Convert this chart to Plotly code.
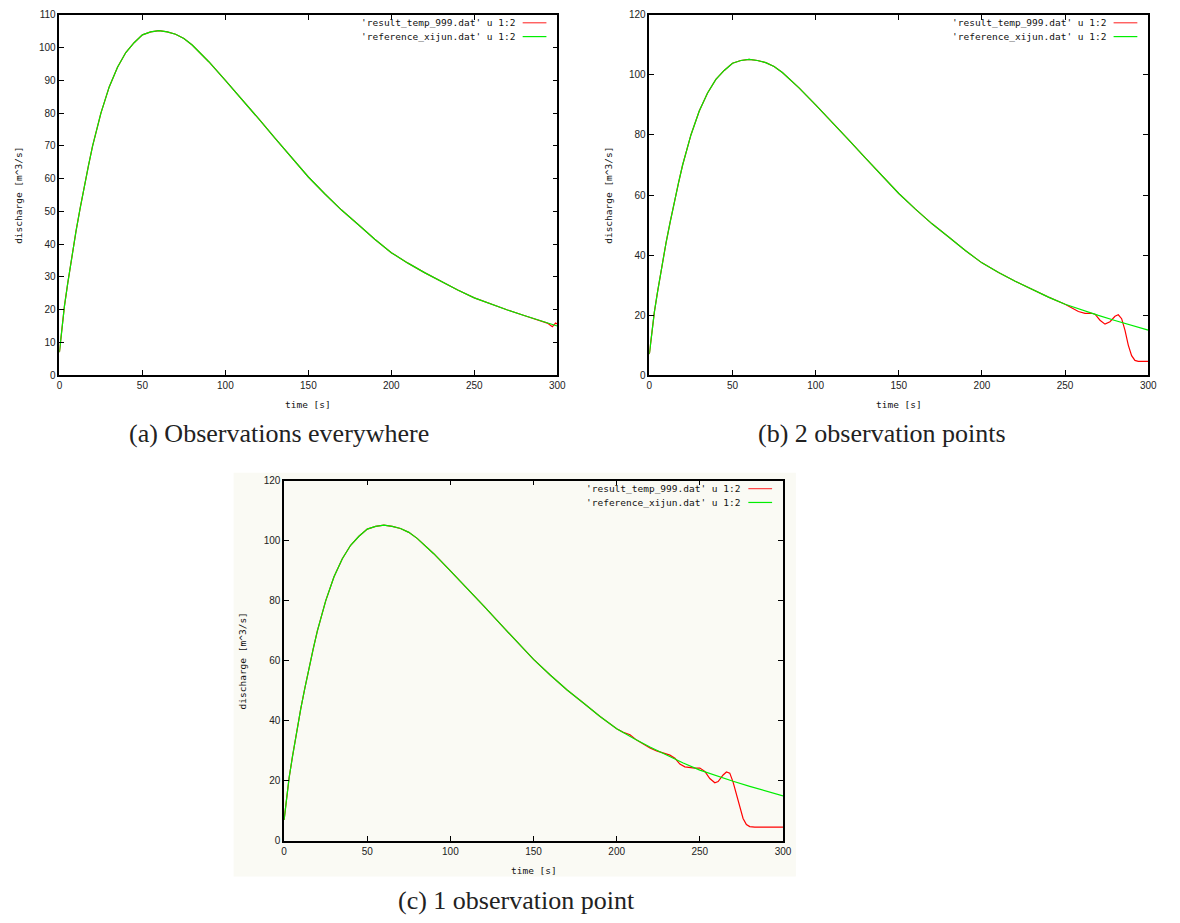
import plotly.graph_objects as go

# ---------------- data ----------------
t_ref = [0, 1, 2, 3, 5, 7, 10, 12.5, 15, 17.5, 20, 25, 30, 35, 40, 45, 50, 55, 60, 65,
         70, 75, 80, 90, 100, 110, 120, 130, 140, 150, 160, 170, 180, 190, 200, 210,
         220, 230, 240, 250, 260, 270, 280, 290, 300]
q_ref = [7, 12, 17, 21, 28, 35, 44, 51, 58, 64, 70, 80, 88, 94, 98.5, 101.5, 103.9, 104.8,
         105.2, 104.8, 104.1, 102.8, 100.8, 95.7, 90, 84.3, 78.3, 72.3, 66.5, 60.5, 55.3,
         50.4, 46, 41.5, 37.4, 34.2, 31.3, 28.6, 26, 23.6, 21.7, 19.9, 18.2, 16.5, 15]

# result curves: identical to reference until the listed tail
red_a_tail_t = [294, 297, 299, 300]
red_a_tail_q = [15.9, 14.8, 15.9, 15.6]

red_b_tail_t = [254, 258, 262, 266, 268, 271, 274, 277, 280, 282, 284, 286, 288, 290, 292, 294, 300]
red_b_tail_q = [22.4, 21.2, 20.6, 20.6, 20.3, 18.3, 17.0, 17.8, 19.6, 20.1, 18.8, 15.0, 10.0, 6.5, 4.9, 4.6, 4.6]

red_c_tail_t = [204, 208, 212, 216, 220, 224, 228, 232, 235, 238, 241, 244, 247, 250, 253, 256,
                259, 261, 264, 266, 268, 270, 272, 274, 276, 278, 280, 283, 300]
red_c_tail_q = [36.2, 35.4, 33.6, 32.3, 31.0, 30.0, 29.3, 28.6, 27.6, 25.6, 24.7, 24.4, 24.3, 24.3,
                23.2, 20.8, 19.4, 19.8, 22.0, 23.0, 22.6, 19.6, 15.5, 11.0, 7.5, 5.5, 4.8, 4.6, 4.6]

x_ticks = [0, 50, 100, 150, 200, 250, 300]
y_ticks_a = [0, 10, 20, 30, 40, 50, 60, 70, 80, 90, 100, 110]
y_ticks_bc = [0, 20, 40, 60, 80, 100, 120]

legend_labels = ["'result_temp_999.dat' u 1:2", "'reference_xijun.dat' u 1:2"]
captions = ["(a) Observations everywhere", "(b) 2 observation points", "(c) 1 observation point"]


def red_series(cut, tail_t, tail_q):
    k = sum(1 for t in t_ref if t <= cut)
    return t_ref[:k] + tail_t, q_ref[:k] + tail_q


red_a = red_series(290, red_a_tail_t, red_a_tail_q)
red_b = red_series(250, red_b_tail_t, red_b_tail_q)
red_c = red_series(200, red_c_tail_t, red_c_tail_q)

# ---------------- layout geometry (pixels) ----------------
W, H = 1180, 923
panels = [
    dict(l=57, r=560, t=9, b=374, yr=110, yt=y_ticks_a, red=red_a),
    dict(l=653, r=1157, t=9, b=374, yr=120, yt=y_ticks_bc, red=red_b),
    dict(l=284, r=788, t=481, b=846, yr=120, yt=y_ticks_bc, red=red_c),
]

fig = go.Figure()
layout = dict(width=W, height=H, margin=dict(l=0, r=0, t=0, b=0),
              paper_bgcolor="white", plot_bgcolor="rgba(0,0,0,0)", showlegend=False)
annotations = []
shapes = []

# off-white background of panel (c)
shapes.append(dict(type="rect", xref="paper", yref="paper", layer="below",
                   x0=233 / W, x1=801 / W, y0=1 - 882 / H, y1=1 - 473 / H,
                   fillcolor="#fafaf4", line=dict(width=0)))

tick_font = dict(family="Liberation Sans, Arial, sans-serif", size=10, color="#222")
mono_font = dict(family="DejaVu Sans Mono, monospace", size=9.5, color="#111")
cap_font = dict(family="Liberation Serif, Times New Roman, serif", size=26, color="#222")

for i, p in enumerate(panels):
    n = "" if i == 0 else str(i + 1)
    xa, ya = "xaxis" + n, "yaxis" + n
    xd = [p["l"] / W, p["r"] / W]
    yd = [1 - p["b"] / H, 1 - p["t"] / H]
    common = dict(showline=True, linecolor="black", linewidth=1.5, mirror="ticks",
                  ticks="inside", ticklen=5, tickwidth=1.2, tickcolor="black",
                  showgrid=False, zeroline=False, tickfont=tick_font, fixedrange=True)
    layout[xa] = dict(domain=xd, range=[0, 300], tickmode="array", tickvals=x_ticks,
                      anchor="y" + n, **common)
    layout[ya] = dict(domain=yd, range=[0, p["yr"]], tickmode="array", tickvals=p["yt"],
                      anchor="x" + n, **common)
    rt, rq = p["red"]
    fig.add_trace(go.Scatter(x=rt, y=rq, mode="lines", line=dict(color="#ff0000", width=1.2),
                             xaxis="x" + n, yaxis="y" + n, name=legend_labels[0]))
    fig.add_trace(go.Scatter(x=t_ref, y=q_ref, mode="lines", line=dict(color="#00ee00", width=1.2),
                             xaxis="x" + n, yaxis="y" + n, name=legend_labels[1]))

    # key (gnuplot style: text then line sample)
    for j, (lab, col) in enumerate(zip(legend_labels, ["#ff4040", "#00ee00"])):
        yy = p["t"] + 8 + j * 14
        annotations.append(dict(xref="paper", yref="paper", x=(p["r"] - 41) / W, y=1 - yy / H,
                                text=lab, showarrow=False, xanchor="right", yanchor="middle",
                                font=mono_font))
        shapes.append(dict(type="line", xref="paper", yref="paper",
                           x0=(p["r"] - 35) / W, x1=(p["r"] - 11) / W,
                           y0=1 - yy / H, y1=1 - yy / H, line=dict(color=col, width=1.2)))

    # axis titles
    annotations.append(dict(xref="paper", yref="paper", x=(p["l"] + p["r"]) / 2 / W,
                            y=1 - (p["b"] + 30) / H, text="time [s]", showarrow=False,
                            xanchor="center", yanchor="middle", font=mono_font))
    annotations.append(dict(xref="paper", yref="paper", x=(p["l"] - 42) / W,
                            y=1 - (p["t"] + p["b"]) / 2 / H, text="discharge [m^3/s]",
                            showarrow=False, textangle=-90, xanchor="center", yanchor="middle",
                            font=mono_font))

# captions
cap_pos = [(279, 433), (888, 433), (519, 906)]
for cap, (cx, cy) in zip(captions, cap_pos):
    annotations.append(dict(xref="paper", yref="paper", x=cx / W, y=1 - cy / H, text=cap,
                            showarrow=False, xanchor="center", yanchor="middle", font=cap_font))

layout["annotations"] = annotations
layout["shapes"] = shapes
fig.update_layout(**layout)
fig.write_html("out.html")
